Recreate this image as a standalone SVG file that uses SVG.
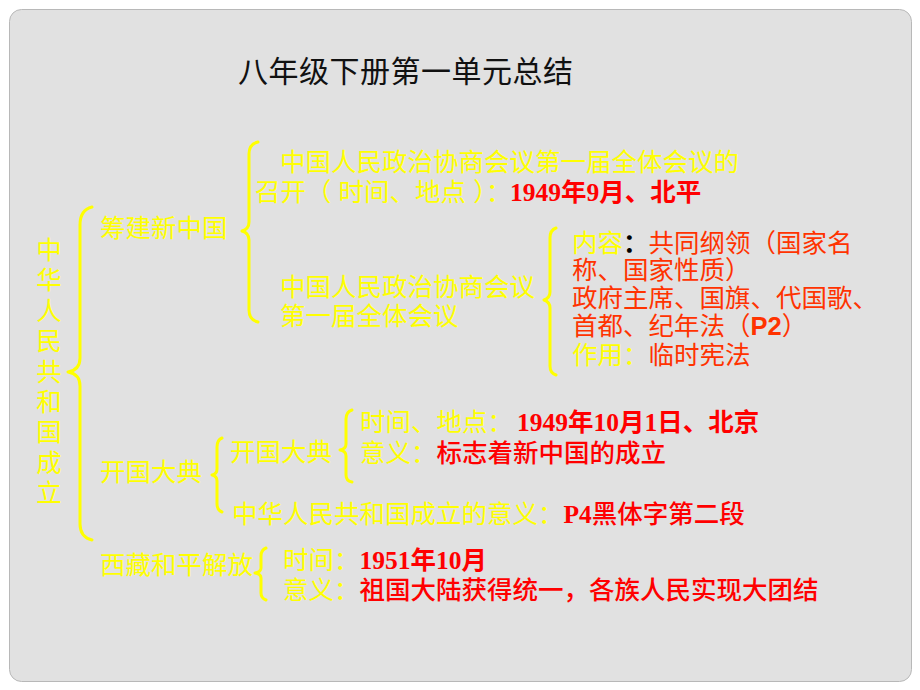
<svg xmlns="http://www.w3.org/2000/svg" width="920" height="690" viewBox="0 0 920 690">
<style>
text{font-family:"Liberation Sans","Noto Sans CJK SC",sans-serif;font-size:25.5px}
.y{fill:#ffff00}
.r{fill:#ff0000;font-weight:500}
.b{font-weight:bold}
.o{fill:#ff3300}
.num{font-family:"Liberation Serif","Noto Sans CJK SC",serif;font-weight:bold}
.br{fill:none;stroke:#ffff00;stroke-width:3;stroke-linecap:round;stroke-linejoin:round}
.title{fill:#111;font-size:30px}
</style>
<rect x="0" y="0" width="920" height="690" fill="#ffffff"/>
<rect x="9.5" y="9.5" width="902" height="672" rx="12" fill="#e1e1e1" stroke="#b8b8b8" stroke-width="1"/>
<g id="title"><text class="title" x="238" y="82" textLength="335" lengthAdjust="spacing">八年级下册第一单元总结</text></g>
<g id="connectors">
<path class="br" d="M92,207 Q80,210 80,225 L80,358 Q80,370 68,372 Q80,374 80,386 L80,524 Q80,537 92,540"/>
<path class="br" d="M258,142 Q249,144 249,154 L249,222 Q249,229 242,231 Q249,233 249,240 L249,310 Q249,320 258,322"/>
<path class="br" d="M556,228 Q550,230 550,238 L550,292 Q550,298 544,300 Q550,302 550,308 L550,366 Q550,373 556,375"/>
<path class="br" d="M222,438 Q217,440 217,447 L217,469 Q217,474 212,475 Q217,476 217,481 L217,504 Q217,510 222,512"/>
<path class="br" d="M352,410 Q346,412 346,419 L346,444 Q346,449 340,450 Q346,451 346,456 L346,475 Q346,481 352,482"/>
<path class="br" d="M266,548 Q261,550 261,556 L261,568 Q261,572 255,573 Q261,574 261,578 L261,593 Q261,598 266,600"/>
</g>
<g id="root"><text class="y" font-size="24" text-anchor="middle"><tspan x="49" y="259">中</tspan><tspan x="49" y="289">华</tspan><tspan x="49" y="320">人</tspan><tspan x="49" y="350">民</tspan><tspan x="49" y="381">共</tspan><tspan x="49" y="411">和</tspan><tspan x="49" y="441">国</tspan><tspan x="49" y="472">成</tspan><tspan x="49" y="502">立</tspan></text></g>
<g id="n-choujian"><text class="y" x="100" y="237">筹建新中国</text></g>
<g id="n-zhengxie1"><text><tspan class="y" x="280" y="171">中国人民政治协商会议第一届全体会议的</tspan><tspan class="y" x="255" y="201">召开（ 时间、地点 ）：</tspan><tspan class="r b num" x="510">1949</tspan><tspan class="r b">年</tspan><tspan class="r b num">9</tspan><tspan class="r b">月、北平</tspan></text></g>
<g id="n-zhengxie2"><text class="y"><tspan x="280" y="296">中国人民政治协商会议</tspan><tspan x="280" y="325">第一届全体会议</tspan></text></g>
<g id="n-content"><text><tspan class="y" x="572" y="252">内容</tspan><tspan fill="#000" font-weight="bold">：</tspan><tspan class="o">共同纲领（国家名</tspan><tspan class="o" x="572" y="279">称、国家性质）</tspan><tspan class="o" x="572" y="307">政府主席、国旗、代国歌、</tspan><tspan class="o" x="572" y="335">首都、纪年法（</tspan><tspan class="o" font-weight="bold">P2</tspan><tspan class="o">）</tspan><tspan class="y" x="572" y="364">作用：</tspan><tspan class="o">临时宪法</tspan></text></g>
<g id="n-kaiguo"><text class="y" x="100" y="481">开国大典</text></g>
<g id="n-kaiguo2"><text class="y" x="230" y="461">开国大典</text></g>
<g id="n-kaiguo-detail"><text><tspan class="y" x="360" y="431">时间、地点：</tspan><tspan class="r b num" x="517">1949</tspan><tspan class="r b">年</tspan><tspan class="r b num">10</tspan><tspan class="r b">月</tspan><tspan class="r b num">1</tspan><tspan class="r b">日、北京</tspan><tspan class="y" x="360" y="462">意义：</tspan><tspan class="r">标志着新中国的成立</tspan></text></g>
<g id="n-yiyi"><text x="232" y="523"><tspan class="y">中华人民共和国成立的意义：</tspan><tspan class="r b num">P4</tspan><tspan class="r">黑体字第二段</tspan></text></g>
<g id="n-xizang"><text class="y" x="100" y="574">西藏和平解放</text></g>
<g id="n-xizang-detail"><text><tspan class="y" x="283" y="569">时间：</tspan><tspan class="r b num">1951</tspan><tspan class="r b">年</tspan><tspan class="r b num">10</tspan><tspan class="r b">月</tspan><tspan class="y" x="283" y="599">意义：</tspan><tspan class="r">祖国大陆获得统一，各族人民实现大团结</tspan></text></g>
</svg>
